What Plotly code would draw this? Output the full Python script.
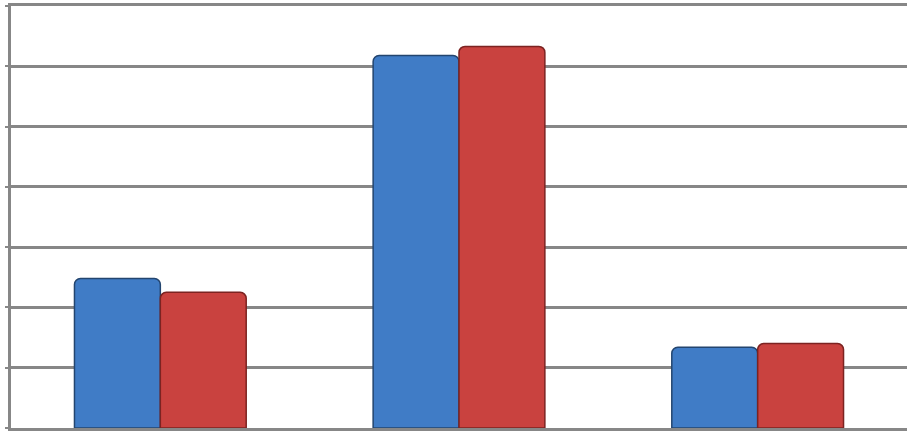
#!/usr/bin/env python3

import plotly.graph_objects as go

# Data (axis has no labels, 7 grid steps)
categories = ["A", "B", "C"]
series_1 = [2.48, 6.18, 1.34]
series_2 = [2.25, 6.33, 1.40]

fig = go.Figure()
fig.add_trace(go.Bar(x=categories, y=series_1, name="Series 1",
                     marker=dict(color="#407cc6", line=dict(color="#23456f", width=1.5))))
fig.add_trace(go.Bar(x=categories, y=series_2, name="Series 2",
                     marker=dict(color="#c9423f", line=dict(color="#7c2321", width=1.5))))

fig.update_layout(
    width=915, height=433,
    margin={"l": 11, "r": 8, "t": 3, "b": 5},
    paper_bgcolor="white", plot_bgcolor="white",
    barmode="group", bargap=0.425, bargroupgap=0,
    barcornerradius=6,
    showlegend=False,
)
fig.update_yaxes(range=[0, 7], dtick=1, showticklabels=False,
                 showgrid=True, gridcolor="#878787", gridwidth=3,
                 showline=True, linecolor="#878787", linewidth=3,
                 ticks="outside", ticklen=3, tickcolor="#878787", tickwidth=2,
                 zeroline=False)
# mirror gives the top border that the edge gridline would otherwise be
fig.update_xaxes(showticklabels=False, showline=True, mirror=True,
                 linecolor="#878787", linewidth=3, ticks="", showgrid=False)

# page body has an 8px default margin, drop it so the chart sits at 0,0
fig.write_html("out.html", config={"displayModeBar": False},
               post_script="document.body.style.margin='0';")
